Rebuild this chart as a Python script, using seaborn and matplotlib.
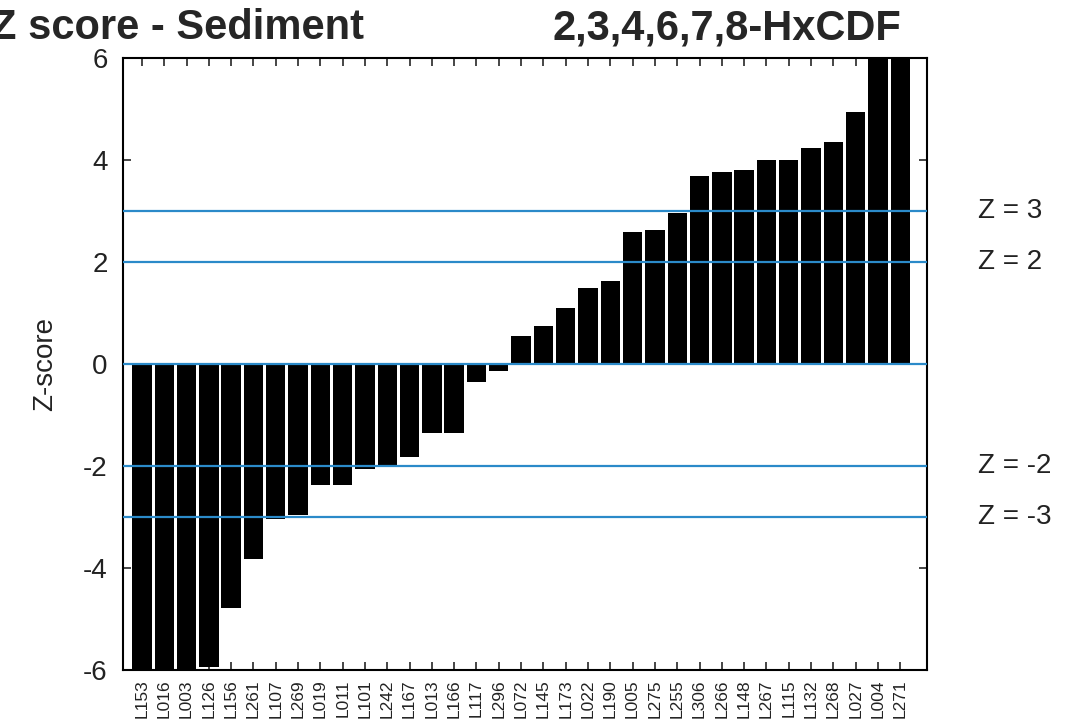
import matplotlib
matplotlib.use("Agg")
import matplotlib.pyplot as plt
import matplotlib.transforms as mtransforms
import seaborn as sns

# lab codes, sorted by z-score
labs = ["L153", "L016", "L003", "L126", "L156", "L261", "L107", "L269", "L019",
        "L011", "L101", "L242", "L167", "L013", "L166", "L117", "L296", "L072",
        "L145", "L173", "L022", "L190", "L005", "L275", "L255", "L306", "L266",
        "L148", "L267", "L115", "L132", "L268", "L027", "L004", "L271"]
zscores = [-8.0, -7.5, -7.0, -5.94, -4.78, -3.83, -3.04, -2.97, -2.37,
           -2.38, -2.06, -2.02, -1.83, -1.35, -1.36, -0.35, -0.14, 0.55,
           0.75, 1.10, 1.49, 1.63, 2.59, 2.63, 2.96, 3.69, 3.77,
           3.80, 4.00, 4.00, 4.24, 4.35, 4.94, 6.5, 7.2]
limits = [3, 2, 0, -2, -3]
limit_labels = ["Z = 3", "Z = 2", "", "Z = -2", "Z = -3"]

sns.set_style("ticks")
plt.rcParams['font.family'] = ['Liberation Sans', 'DejaVu Sans']
plt.rcParams['axes.unicode_minus'] = False

fig = plt.figure(figsize=(10.91, 7.26), dpi=100)
ax = fig.add_axes([0.1127, 0.0771, 0.737, 0.843])

sns.barplot(x=labs, y=zscores, color="black", saturation=1, width=0.87,
            edgecolor="none", ax=ax)

for z in limits:
    ax.axhline(z, color="#2b8ac9", lw=1.6, zorder=5)

tr = mtransforms.blended_transform_factory(ax.transAxes, ax.transData)
for z, t in zip(limits, limit_labels):
    if t:
        ax.text(1.063, z, t, transform=tr, fontsize=20, va="center", ha="left",
                color="#222222")

ax.set_ylim(-6, 6)
ax.set_xlim(-0.85, 35.2)
ax.set_yticks([-6, -4, -2, 0, 2, 4, 6])
ax.tick_params(axis="y", labelsize=20, direction="in", length=6, width=1.2,
               right=True, pad=11, labelcolor="#222222")
ax.tick_params(axis="x", labelsize=12.5, direction="in", length=6, width=1.2,
               top=True, labelrotation=90, pad=7, labelcolor="#222222")
ax.set_ylabel("Z-score", fontsize=20, color="#222222", labelpad=18)
for s in ax.spines.values():
    s.set_visible(True)
    s.set_linewidth(1.5)
    s.set_color("black")

fig.text(-0.008, 0.946, "Z score - Sediment", fontsize=30, fontweight="bold",
         ha="left", va="baseline")
fig.text(0.826, 0.946, "2,3,4,6,7,8-HxCDF", fontsize=30, fontweight="bold",
         ha="right", va="baseline")

fig.savefig("out.png", dpi=100)
